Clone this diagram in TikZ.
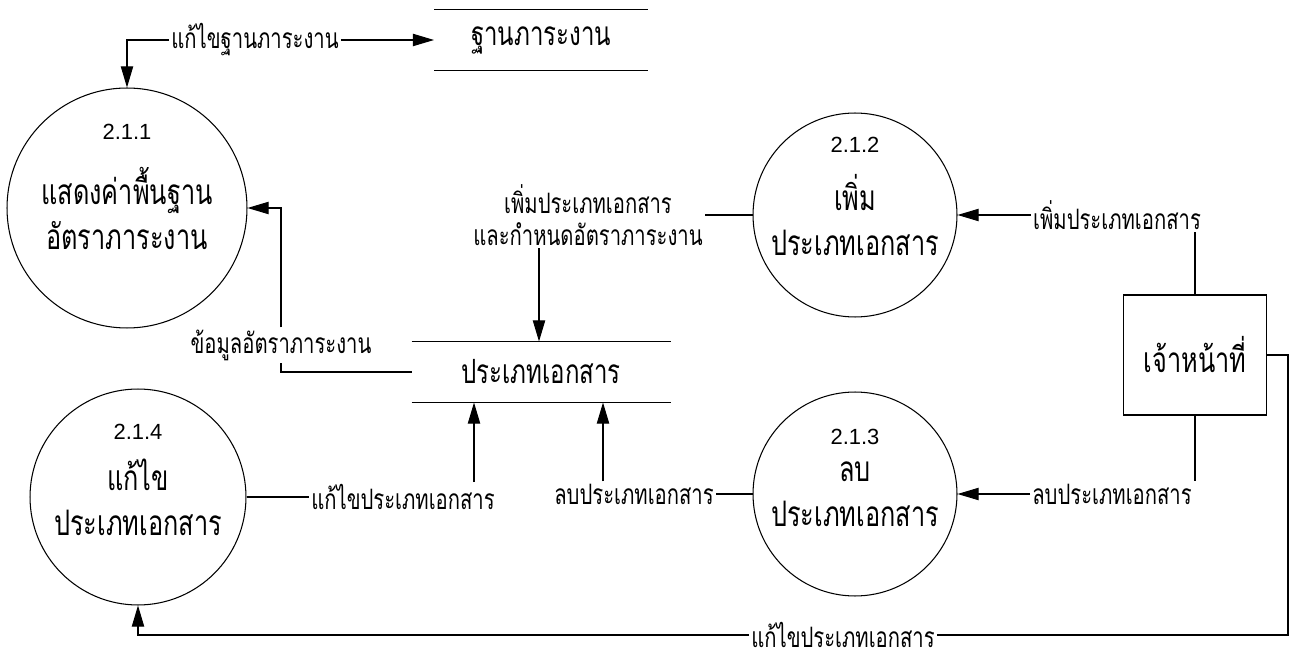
\documentclass[tikz,border=0pt]{standalone}
\usepackage{fontspec}
\setmainfont{Liberation Sans}
\newfontfamily\thaifont[Script=Thai,FakeStretch=0.72]{Loma}
\usetikzlibrary{arrows.meta}

\begin{document}
\begin{tikzpicture}[x=0.02cm,y=-0.02cm,line width=0.6pt,
  proc/.style={circle,draw,inner sep=0pt},
  ptitle/.style={font=\thaifont\fontsize{20}{25.6}\selectfont,align=center},
  pnum/.style={font=\fontsize{12.5}{14}\selectfont},
  store/.style={font=\thaifont\fontsize{19}{22}\selectfont,minimum height=1.2cm},
  lbl/.style={font=\thaifont\fontsize{16}{18.5}\selectfont,align=center,inner sep=1pt},
  flow/.style={-{Triangle[length=12pt,width=7pt]}}]
\useasboundingbox (0,0) rectangle (1293,651);

\node[store,minimum width=4.26cm] (sBase) at (541,40) {ฐานภาระงาน};
\node[store,minimum width=5.16cm] (sDoc) at (541,372) {ประเภทเอกสาร};
\foreach \s in {sBase,sDoc}
  \draw (\s.north west) -- (\s.north east) (\s.south west) -- (\s.south east);

\node[proc,minimum size=4.8cm] (p1) at (127,208) {};
\node[proc,minimum size=4.08cm] (p2) at (855,215) {};
\node[proc,minimum size=4.08cm] (p3) at (855,494) {};
\node[proc,minimum size=4.32cm] (p4) at (138,497) {};
\foreach \p/\n/\d in {p1/2.1.1/1.52, p2/2.1.2/1.4, p3/2.1.3/1.14, p4/2.1.4/1.3}
  \node[pnum] (\p num) at ([yshift=\d cm]\p) {\n};
\node[ptitle] (p1t) at (p1) {แสดงค่าพื้นฐาน\\อัตราภาระงาน};
\node[ptitle] (p2t) at (p2) {เพิ่ม\\ประเภทเอกสาร};
\node[ptitle] (p3t) at (p3) {ลบ\\ประเภทเอกสาร};
\node[ptitle] (p4t) at (p4) {แก้ไข\\ประเภทเอกสาร};

\node[draw,ptitle,minimum width=2.86cm,minimum height=2.4cm] (ent) at (1195,355) {เจ้าหน้าที่};

\node[lbl] (lEditBase) at (255,40) {แก้ไขฐานภาระงาน};
\node[lbl] (lData) at (281,345) {ข้อมูลอัตราภาระงาน};
\node[lbl] (lAddRate) at (588,215) {เพิ่มประเภทเอกสาร\\และกำหนดอัตราภาระงาน};
\node[lbl] (lAdd) at (1117,215) {เพิ่มประเภทเอกสาร};
\node[lbl] (lDel) at (1112,494) {ลบประเภทเอกสาร};
\node[lbl] (lDelDoc) at (634,494) {ลบประเภทเอกสาร};
\node[lbl] (lEdit) at (403,497) {แก้ไขประเภทเอกสาร};
\node[lbl] (lEditAll) at (843,635) {แก้ไขประเภทเอกสาร};

\coordinate (cAdd) at (539,0);
\coordinate (cEdit) at (474,0);
\coordinate (cDel) at (603,0);
\coordinate (cR) at (1288,635);

\draw[flow] (lEditBase.west) -| (p1.north);
\draw[flow] (lEditBase.east) -- (sBase.west);
\draw (sDoc.west) -| (lData.south);
\draw[flow] (lData.north) |- (p1.east);
\draw (p2.west) -- (lAddRate.east);
\draw[flow] (lAddRate.south -| cAdd) -- (sDoc.north -| cAdd);
\draw (ent.north) -- (ent.north |- lAdd.south);
\draw[flow] (lAdd.west) -- (p2.east);
\draw (ent.south) -- (ent.south |- lDel.north);
\draw[flow] (lDel.west) -- (p3.east);
\draw (p3.west) -- (lDelDoc.east);
\draw[flow] (lDelDoc.north -| cDel) -- (sDoc.south -| cDel);
\draw (p4.east) -- (lEdit.west);
\draw[flow] (lEdit.north -| cEdit) -- (sDoc.south -| cEdit);
\draw (ent.east) -| (cR) -- (lEditAll.east);
\draw[flow] (lEditAll.west) -| (p4.south);
\end{tikzpicture}
\end{document}
